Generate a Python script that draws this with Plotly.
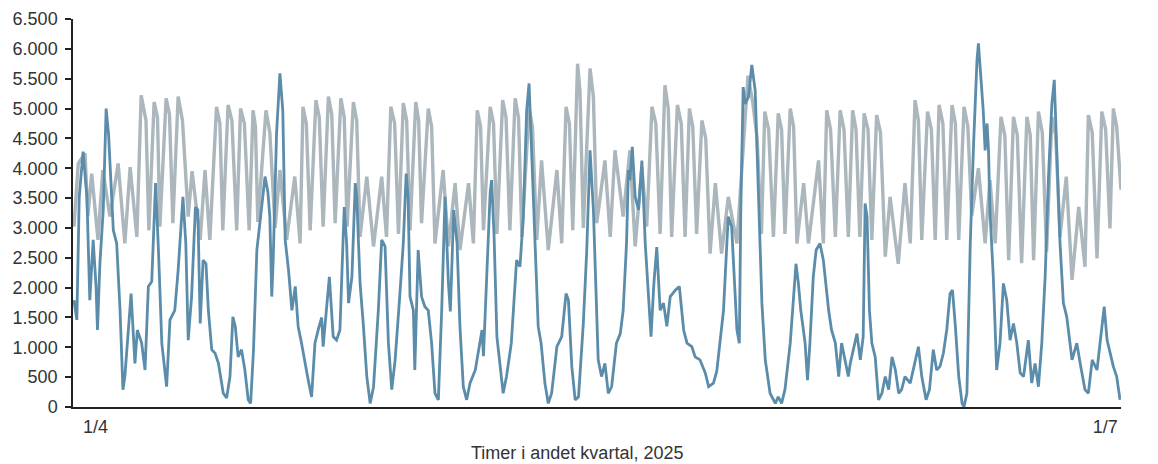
import plotly.graph_objects as go

# Hours since 1 April 2025 00:00 (Q2 2025 has 2184 hours)
grey_hours = [2, 11, 25, 31, 39, 52, 62, 77, 94, 108, 119, 133, 142, 152, 158, 169, 181, 194, 208, 219,
              240, 248, 265, 275, 285, 299, 312, 323, 341, 349, 367, 375, 385, 402, 410, 421, 431, 445,
              462, 473, 479, 494, 506, 521, 532, 546, 558, 571, 584, 598, 612, 626, 643, 653, 662, 678,
              688, 702, 714, 726, 740, 754, 771, 782, 796, 806, 824, 834, 842, 855, 869, 883, 895, 910,
              921, 935, 950, 966, 976, 990, 1008, 1018, 1027, 1041, 1051, 1063, 1077, 1091, 1108, 1119,
              1129, 1146, 1160, 1171, 1185, 1195, 1206, 1223, 1233, 1247, 1259, 1275, 1284, 1299, 1310,
              1327, 1338, 1351, 1365, 1383, 1406, 1434, 1441, 1459, 1469, 1483, 1494, 1508, 1522, 1532,
              1553, 1563, 1570, 1588, 1598, 1615, 1624, 1639, 1648, 1664, 1674, 1692, 1702, 1719, 1733,
              1744, 1754, 1768, 1780, 1796, 1804, 1820, 1831, 1845, 1856, 1872, 1886, 1900, 1910, 1921,
              1933, 1949, 1959, 1976, 1987, 2001, 2011, 2028, 2039, 2056, 2069, 2081, 2095, 2108, 2115,
              2133, 2143, 2160, 2167, 2183]
grey_values = [3020, 4080, 4250, 3200, 3910, 2800, 3970, 3190, 4080, 2740, 4020, 2850, 5220, 4800, 2960,
               5110, 3020, 5170, 3080, 5200, 3190, 3950, 2800, 3970, 2800, 5030, 2960, 5060, 2960, 5000,
               2960, 4970, 3100, 4970, 4600, 3000, 3970, 2800, 3860, 2740, 5030, 2960, 5140, 3020, 5200,
               3080, 5170, 3020, 5110, 2850, 3860, 2690, 3860, 2850, 5030, 2900, 5090, 2960, 5110, 3080,
               5000, 2740, 3970, 2690, 3750, 2630, 3750, 2740, 4970, 2960, 5030, 2900, 5140, 2960, 5170,
               2850, 5000, 2800, 4130, 2630, 3970, 2740, 5030, 2960, 5750, 3000, 5670, 3080, 4130, 2850,
               4300, 3190, 4300, 2690, 4020, 3020, 5030, 2900, 5390, 2850, 5060, 2850, 5000, 2900, 4800,
               2570, 3750, 2570, 3520, 2740, 5550, 2900, 4950, 2850, 4920, 2900, 5000, 2740, 3750, 2740,
               4130, 2740, 4970, 2850, 4970, 2850, 4970, 2850, 4920, 2800, 4890, 2520, 3520, 2400, 3750,
               2740, 5140, 2800, 4950, 2800, 5060, 2800, 5060, 2800, 5030, 3200, 4000, 2740, 3800, 2740,
               4860, 2460, 4860, 2410, 4860, 2460, 4950, 2600, 4860, 2850, 3860, 2130, 3350, 2350, 4890,
               2490, 4950, 2990, 5000, 3640]

# Late-day shoulder of the grey curve on working days (read after each high peak)
grey_shoulder_hours = [176, 201, 228, 306, 331, 357, 380, 486, 513, 539, 565, 591, 670, 695, 720, 747,
                       849, 876, 902, 928, 957, 1034, 1056, 1084, 1214, 1240, 1267, 1291, 1318, 1416,
                       1425, 1449, 1476, 1501, 1578, 1606, 1631, 1656, 1682, 1761, 1788, 1812, 1838,
                       1864, 1941, 1967, 1994, 2019, 2047, 2123, 2151, 2174]
grey_shoulder_values = [4850, 4900, 4800, 4750, 4800, 4750, 4700, 4750, 4850, 4900, 4850, 4800, 4750,
                        4800, 4800, 4700, 4700, 4750, 4850, 4850, 4700, 4750, 5300, 5200, 4750, 5000,
                        4750, 4700, 4500, 5100, 4500, 4650, 4650, 4700, 4650, 4650, 4650, 4650, 4600,
                        4800, 4650, 4750, 4750, 4700, 4550, 4550, 4550, 4600, 4550, 4600, 4650, 4700]

dark_hours = [2, 8, 13, 21, 29, 35, 42, 48, 51, 56, 63, 69, 74, 84, 91, 98, 104, 108, 121, 129, 134,
              143, 150, 157, 164, 172, 178, 185, 195, 202, 212, 219, 229, 235, 240, 247, 255, 260, 265,
              271, 277, 282, 289, 296, 303, 306, 313, 320, 327, 333, 338, 344, 351, 358, 365, 370, 376,
              383, 393, 400, 406, 410, 414, 417, 424, 431, 437, 442, 449, 456, 463, 469, 476, 483, 490,
              497, 504, 511, 518, 521, 528, 534, 542, 549, 556, 565, 570, 574, 581, 588, 591, 598, 605,
              612, 619, 626, 636, 643, 650, 657, 664, 671, 681, 688, 694, 698, 702, 709, 712, 719, 726,
              733, 740, 747, 754, 761, 768, 775, 782, 786, 793, 800, 806, 813, 820, 827, 838, 845, 852,
              855, 862, 869, 872, 877, 883, 890, 896, 903, 913, 924, 931, 938, 945, 950, 955, 962, 969,
              975, 983, 990, 997, 1008, 1018, 1027, 1032, 1039, 1046, 1053, 1060, 1063, 1070, 1077, 1084,
              1094, 1101, 1108, 1115, 1122, 1132, 1140, 1146, 1153, 1157, 1160, 1165, 1171, 1178, 1185,
              1192, 1199, 1204, 1210, 1216, 1223, 1230, 1237, 1244, 1255, 1263, 1272, 1279, 1289, 1296,
              1306, 1317, 1324, 1334, 1341, 1348, 1355, 1362, 1365, 1372, 1377, 1383, 1388, 1391, 1396,
              1400, 1407, 1414, 1421, 1428, 1435, 1442, 1452, 1463, 1469, 1476, 1483, 1494, 1501, 1506,
              1511, 1516, 1525, 1530, 1535, 1542, 1548, 1556, 1563, 1574, 1580, 1588, 1595, 1601, 1608,
              1615, 1619, 1626, 1633, 1640, 1646, 1650, 1654, 1659, 1664, 1671, 1678, 1685, 1692, 1699,
              1706, 1713, 1720, 1726, 1733, 1744, 1754, 1761, 1768, 1777, 1784, 1792, 1799, 1806, 1813,
              1820, 1827, 1832, 1838, 1845, 1852, 1856, 1862, 1869, 1876, 1883, 1886, 1893, 1896, 1900,
              1904, 1907, 1910, 1917, 1924, 1931, 1938, 1945, 1952, 1959, 1966, 1973, 1980, 1990, 1997,
              2004, 2011, 2018, 2025, 2032, 2039, 2044, 2049, 2056, 2063, 2070, 2081, 2091, 2098, 2108,
              2115, 2123, 2133, 2143, 2148, 2154, 2160, 2167, 2174, 2181]
dark_values = [1790, 1460, 3520, 4280, 3520, 1790, 2800, 2020, 1290, 2400, 3300, 5000, 4580, 2960, 2740,
               1620, 290, 510, 1900, 730, 1290, 1070, 620, 2020, 2100, 3750, 2630, 1070, 340, 1460, 1620,
               2290, 3520, 2740, 1120, 1850, 3350, 3300, 1400, 2460, 2400, 1620, 960, 900, 730, 570, 230,
               150, 510, 1510, 1350, 840, 960, 620, 120, 60, 960, 2630, 3300, 3860, 3600, 3190, 1850,
               2460, 4580, 5590, 4970, 2800, 2290, 1620, 2020, 1350, 1070, 730, 450, 170, 1070, 1300,
               1500, 1010, 1620, 2180, 1180, 1120, 1290, 3350, 2740, 1740, 2180, 3750, 3520, 2070, 1350,
               510, 60, 340, 1620, 2800, 2690, 1070, 290, 790, 1900, 2740, 3910, 3520, 1850, 1620, 620,
               2630, 1850, 1680, 1620, 1070, 230, 120, 1620, 3520, 2070, 1600, 3300, 2740, 1350, 340, 120,
               400, 620, 960, 1290, 850, 2180, 3600, 3800, 2900, 1180, 620, 230, 510, 1070, 2460, 2350,
               3190, 4970, 5420, 4300, 2740, 1350, 1070, 400, 60, 230, 1010, 1180, 1900, 1790, 680, 120,
               170, 1070, 1400, 2600, 4300, 3300, 790, 510, 730, 230, 340, 1070, 1230, 1620, 2740, 3970,
               3800, 4360, 3520, 3300, 4130, 2740, 1790, 1180, 2070, 2680, 1620, 1740, 1350, 1850, 1960,
               2020, 1290, 1070, 1010, 840, 790, 570, 340, 400, 600, 1070, 1620, 2740, 3190, 3020, 2180,
               1290, 1070, 3300, 5360, 5080, 5190, 5730, 5300, 3300, 1740, 790, 230, 60, 170, 60, 290,
               1070, 1790, 2400, 2070, 1620, 1070, 450, 1070, 2180, 2630, 2740, 2460, 1620, 1290, 1070,
               510, 1070, 790, 510, 730, 960, 1230, 790, 1180, 3410, 3190, 1620, 1070, 840, 120, 230, 510,
               290, 840, 620, 230, 290, 510, 400, 790, 1010, 510, 120, 290, 960, 620, 680, 900, 1290,
               1900, 1960, 1350, 510, 60, 5, 230, 2740, 4420, 5810, 6090, 5250, 4970, 4300, 4750, 4300,
               3300, 2180, 620, 1070, 2070, 1790, 1120, 1400, 1070, 570, 510, 1120, 400, 730, 340, 1070,
               2180, 3860, 5080, 5480, 4420, 2740, 1740, 1510, 790, 1070, 730, 290, 230, 790, 620, 1350,
               1680, 1120, 900, 680, 510, 120]

x_tick_positions = [47, 2150]
x_tick_labels = ["1/4", "1/7"]
x_title = "Timer i andet kvartal, 2025"

FONT = "Liberation Sans, Arial, sans-serif"

# merge the grey readings (peaks/troughs + shoulders) in time order
grey_pts = sorted(zip(grey_hours + grey_shoulder_hours, grey_values + grey_shoulder_values))
grey_x = [p[0] for p in grey_pts]
grey_y = [p[1] for p in grey_pts]

fig = go.Figure()
fig.add_trace(go.Scatter(x=grey_x, y=grey_y, mode="lines",
                         line=dict(color="#abb7bd", width=3.4), showlegend=False, hoverinfo="skip"))
fig.add_trace(go.Scatter(x=dark_hours, y=dark_values, mode="lines",
                         line=dict(color="#5b8dab", width=2.8), showlegend=False, hoverinfo="skip"))

# The page body has an 8px margin, so the figure is sized/margined to land where the reference does
fig.update_layout(
    width=1150, height=456,
    margin=dict(l=65, r=37, t=11, b=57, autoexpand=False),
    paper_bgcolor="white", plot_bgcolor="white",
    separators=",.",
    font=dict(family=FONT, size=18, color="#333333"),
    xaxis=dict(range=[0, 2183], automargin=False, showgrid=False, zeroline=False, showline=True,
               linecolor="#222222", linewidth=1.5, ticks="",
               tickmode="array", tickvals=x_tick_positions, ticktext=x_tick_labels,
               ticklabelstandoff=3,
               tickfont=dict(family=FONT, size=18, color="#333333")),
    yaxis=dict(range=[0, 6500], automargin=False, tick0=0, dtick=500, tickformat=",d",
               showgrid=False, zeroline=False, showline=True,
               linecolor="#222222", linewidth=1.5, ticks="outside", ticklen=6,
               tickcolor="#222222", tickwidth=1.5, ticklabelstandoff=4,
               tickfont=dict(family=FONT, size=18, color="#333333")),
    annotations=[dict(text=x_title, xref="paper", yref="paper", x=0.481, y=-0.118,
                      xanchor="center", yanchor="middle", showarrow=False,
                      font=dict(family=FONT, size=18, color="#333333"))],
)

fig.write_html("out.html")
